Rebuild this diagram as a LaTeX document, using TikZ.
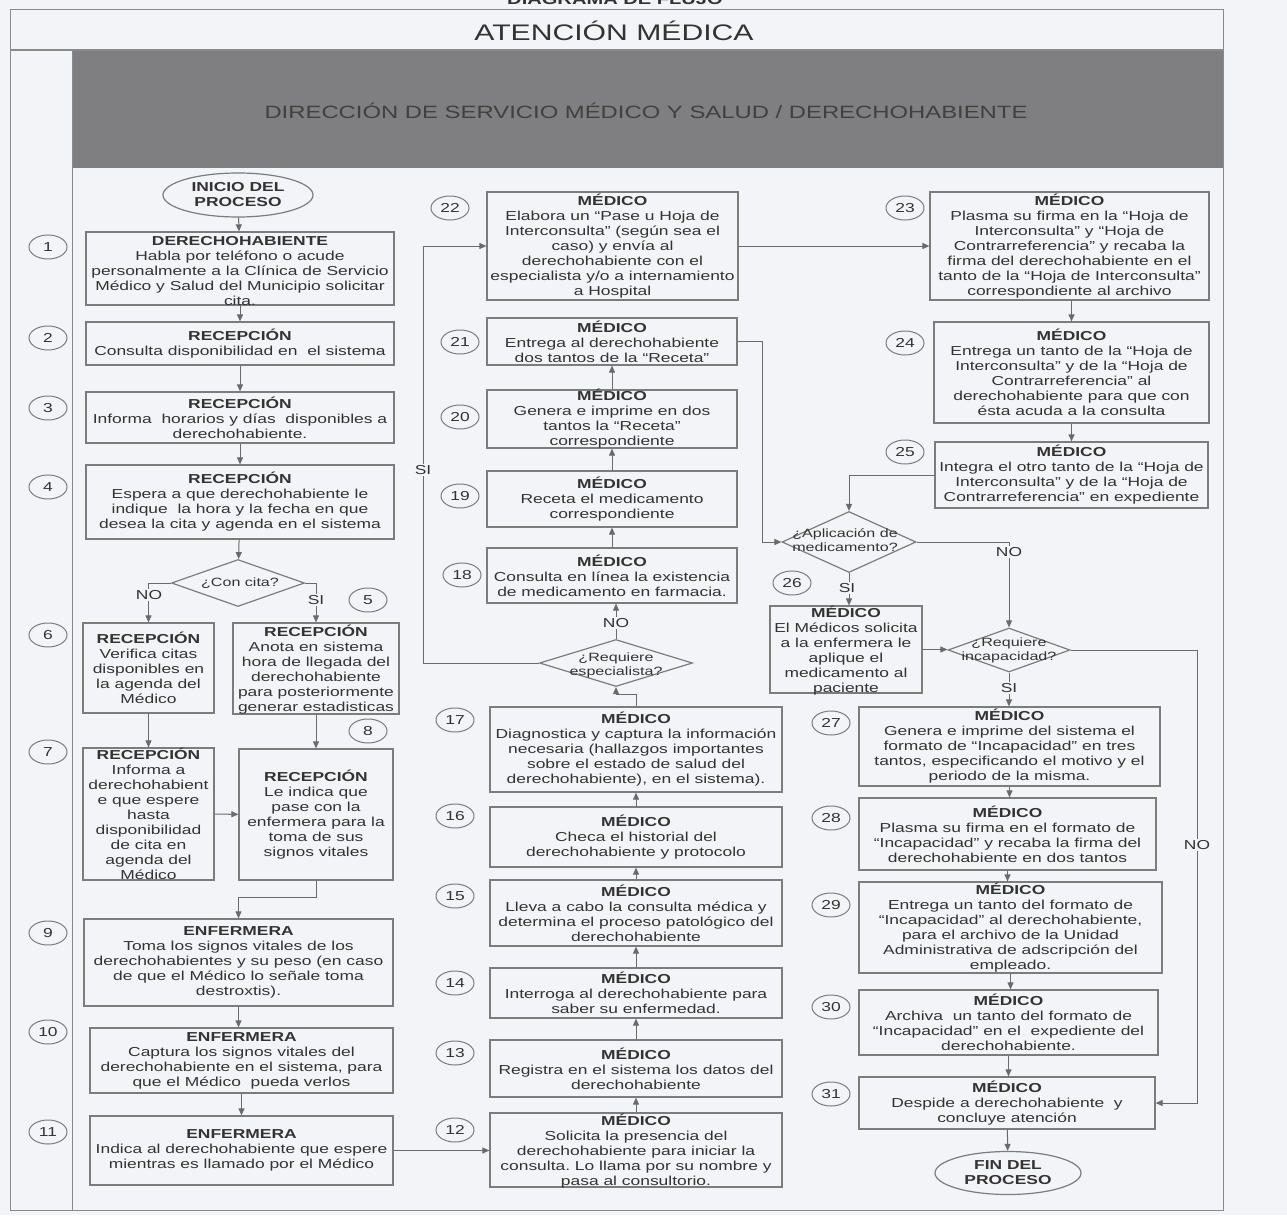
\documentclass[tikz,border=0pt]{standalone}
\usepackage{fontspec}
\setmainfont{Liberation Sans}[FakeStretch=1.34]
\usetikzlibrary{shapes.geometric,arrows.meta}
\frenchspacing
\definecolor{bgc}{HTML}{F3F4F8}
\definecolor{linec}{HTML}{6A6A6A}
\definecolor{boxc}{HTML}{7C7C7C}
\definecolor{txtc}{HTML}{333333}
\definecolor{bandc}{HTML}{7F7F81}
\definecolor{framec}{HTML}{8A8A8A}
\newcommand\fs{\fontsize{13}{15}\selectfont}
\newcommand\fd{\fontsize{12}{14}\selectfont}
\newcommand\flowbox[7]{%
  \node[bx,minimum width=#4pt,minimum height=#5pt] (#1) at (#2,#3) {};
  \node[tx,shift={(0,#6)}] (#1t) at (#1) {#7};}
\tikzset{
  bx/.style={draw=boxc,line width=1.2pt,rectangle,inner sep=0pt},
  tx/.style={align=center,font=\fs,text=txtc,inner sep=0pt},
  numc/.style={draw=boxc,line width=1pt,ellipse,minimum width=38pt,minimum height=24pt,inner sep=0pt,font=\fs,text=txtc},
  term/.style={draw=boxc,line width=1.2pt,ellipse,inner sep=0pt,align=center,font=\fs\bfseries,text=txtc},
  dia/.style={draw=boxc,line width=1.2pt,diamond,inner sep=0pt},
  dtx/.style={align=center,font=\fd,text=txtc,inner sep=0pt},
  arr/.style={draw=linec,line width=1pt,-{Triangle[length=7pt,width=6pt]}},
  ln/.style={draw=linec,line width=1pt},
  lbl/.style={font=\fs,text=txtc,fill=bgc,inner sep=1pt}
}
\begin{document}
\begin{tikzpicture}[x=1pt,y=-1pt]
\useasboundingbox (0,0) rectangle (1287,1215);
\fill[bgc] (0,0) rectangle (1287,1215);
% frame
\node[font=\bfseries\fontsize{15}{18}\selectfont,text=txtc,anchor=base] (toptitle) at (615,5) {DIAGRAMA DE FLUJO};
\fill[bandc] (72,51) rectangle (1223,168);
\draw[framec,line width=1pt] (10,10) rectangle (1223,1210);
\draw[framec,line width=2pt] (10,50) -- (1223,50);
\draw[framec,line width=1pt] (72,50) -- (72,1210);
\node[font=\fontsize{22.5}{26}\selectfont,text=txtc] (title) at (614,31) {ATENCIÓN MÉDICA};
\node[font=\fontsize{17.8}{20}\selectfont,text=black!75] (band) at (646,111) {DIRECCIÓN DE SERVICIO MÉDICO Y SALUD / DERECHOHABIENTE};

% ---------- left column ----------
\node[term,minimum width=150pt,minimum height=44pt] (start) at (238,195) {INICIO DEL\\PROCESO};
\flowbox{b1}{240}{268.5}{308}{73}{3}{\textbf{DERECHOHABIENTE}\\Habla por teléfono o acude\\personalmente a la Clínica de Servicio\\Médico y Salud del Municipio solicitar\\cita.}
\flowbox{b2}{240}{343.5}{308}{43}{0}{\textbf{RECEPCIÓN}\\Consulta disponibilidad en\ \ el sistema}
\flowbox{b3}{240}{417.5}{308}{51}{0}{\textbf{RECEPCIÓN}\\Informa\ \ horarios y días\ \ disponibles a\\derechohabiente.}
\flowbox{b4}{240}{502}{308}{74}{0}{\textbf{RECEPCIÓN}\\Espera a que derechohabiente le\\indique\ \ la hora y la fecha en que\\desea la cita y agenda en el sistema}
\node[dia,minimum width=133pt,minimum height=47pt] (d1) at (238,583) {};
\node[dtx] (d1t) at (240,583) {¿Con cita?};
\flowbox{b6}{148.5}{668}{131}{90}{0}{\textbf{RECEPCIÓN}\\Verifica citas\\disponibles en\\la agenda del\\Médico}
\flowbox{b5}{316}{668.5}{166}{91}{1}{\textbf{RECEPCIÓN}\\Anota en sistema\\hora de llegada del\\derechohabiente\\para posteriormente\\generar estadisticas}
\flowbox{b7}{148.5}{814}{131}{132}{0}{\textbf{RECEPCIÓN}\\Informa a\\derechohabient\\e que espere\\hasta\\disponibilidad\\de cita en\\agenda del\\Médico}
\flowbox{b8}{316}{814.5}{154}{131}{0}{\textbf{RECEPCIÓN}\\Le indica que\\pase con la\\enfermera para la\\toma de sus\\signos vitales}
\flowbox{b9}{238.5}{962.5}{309}{87}{0}{\textbf{ENFERMERA}\\Toma los signos vitales de los\\derechohabientes y su peso (en caso\\de que el Médico lo señale toma\\destroxtis).}
\flowbox{b10}{241.5}{1060.5}{303}{65}{0}{\textbf{ENFERMERA}\\Captura los signos vitales del\\derechohabiente en el sistema, para\\que el Médico\ \ pueda verlos}
\flowbox{b11}{241.5}{1150.5}{303}{69}{0}{\textbf{ENFERMERA}\\Indica al derechohabiente que espere\\mientras es llamado por el Médico}

\node[numc] (c1) at (48,247) {1};
\node[numc] (c2) at (48,338) {2};
\node[numc] (c3) at (48,408) {3};
\node[numc] (c4) at (48,487) {4};
\node[numc] (c5) at (368,600) {5};
\node[numc] (c6) at (48,635) {6};
\node[numc] (c7) at (48,752) {7};
\node[numc] (c8) at (368,731) {8};
\node[numc] (c9) at (48,933) {9};
\node[numc] (c10) at (48,1032) {10};
\node[numc] (c11) at (48,1132) {11};

% ---------- middle column ----------
\flowbox{b12}{636}{1150}{292}{74}{1}{\textbf{MÉDICO}\\Solicita la presencia del\\derechohabiente para iniciar la\\consulta. Lo llama por su nombre y\\pasa al consultorio.}
\flowbox{b13}{636}{1068.5}{292}{57}{0}{\textbf{MÉDICO}\\Registra en el sistema los datos del\\derechohabiente}
\flowbox{b14}{636}{993}{292}{50}{0}{\textbf{MÉDICO}\\Interroga al derechohabiente para\\saber su enfermedad.}
\flowbox{b15}{636}{913}{292}{66}{0}{\textbf{MÉDICO}\\Lleva a cabo la consulta médica y\\determina el proceso patológico del\\derechohabiente}
\flowbox{b16}{636}{837}{292}{60}{0}{\textbf{MÉDICO}\\Checa el historial del\\derechohabiente y protocolo}
\flowbox{b17}{636}{749.5}{292}{85}{0}{\textbf{MÉDICO}\\Diagnostica y captura la información\\necesaria (hallazgos importantes\\sobre el estado de salud del\\derechohabiente), en el sistema).}
\node[dia,minimum width=153pt,minimum height=47pt] (d2) at (616,663) {};
\node[dtx] (d2t) at (616,665) {¿Requiere\\especialista?};
\flowbox{b18}{612}{575.5}{250}{55}{0}{\textbf{MÉDICO}\\Consulta en línea la existencia\\de medicamento en farmacia.}
\flowbox{b19}{612}{499}{250}{56}{0}{\textbf{MÉDICO}\\Receta el medicamento\\correspondiente}
\flowbox{b20}{612}{419}{250}{58}{0}{\textbf{MÉDICO}\\Genera e imprime en dos\\tantos la “Receta”\\correspondiente}
\flowbox{b21}{612}{341.5}{250}{47}{0}{\textbf{MÉDICO}\\Entrega al derechohabiente\\dos tantos de la “Receta”}
\flowbox{b22}{612.5}{246}{251}{108}{0}{\textbf{MÉDICO}\\Elabora un “Pase u Hoja de\\Interconsulta” (según sea el\\caso) y envía al\\derechohabiente con el\\especialista y/o a internamiento\\a Hospital}

\node[numc] (c12) at (455,1130) {12};
\node[numc] (c13) at (455,1053) {13};
\node[numc] (c14) at (455,983) {14};
\node[numc] (c15) at (455,896) {15};
\node[numc] (c16) at (455,816) {16};
\node[numc] (c17) at (455,720) {17};
\node[numc] (c18) at (462,575) {18};
\node[numc] (c19) at (460,496) {19};
\node[numc] (c20) at (460,417) {20};
\node[numc] (c21) at (460,342) {21};
\node[numc] (c22) at (450,208) {22};

% ---------- right column ----------
\flowbox{b23}{1069.5}{246}{279}{108}{0}{\textbf{MÉDICO}\\Plasma su firma en la “Hoja de\\Interconsulta” y “Hoja de\\Contrarreferencia” y recaba la\\firma del derechohabiente en el\\tanto de la “Hoja de Interconsulta”\\correspondiente al archivo}
\flowbox{b24}{1071.5}{372.5}{275}{101}{0}{\textbf{MÉDICO}\\Entrega un tanto de la “Hoja de\\Interconsulta” y de la “Hoja de\\Contrarreferencia” al\\derechohabiente para que con\\ésta acuda a la consulta}
\flowbox{b25}{1071.5}{475}{273}{66}{0}{\textbf{MÉDICO}\\Integra el otro tanto de la “Hoja de\\Interconsulta” y de la “Hoja de\\Contrarreferencia” en expediente}
\node[dia,minimum width=134pt,minimum height=61pt] (d3) at (849,542) {};
\node[dtx] (d3t) at (845,540) {¿Aplicación de\\medicamento?};
\flowbox{b26}{846}{649.5}{152}{87}{1}{\textbf{MÉDICO}\\El Médicos solicita\\a la enfermera le\\aplique el\\medicamento al\\paciente}
\node[dia,minimum width=122pt,minimum height=44pt] (d4) at (1009,650) {};
\node[dtx] (d4t) at (1009,650) {¿Requiere\\incapacidad?};
\flowbox{b27}{1009.5}{746.5}{301}{79}{0}{\textbf{MÉDICO}\\Genera e imprime del sistema el\\formato de “Incapacidad” en tres\\tantos, especificando el motivo y el\\periodo de la misma.}
\flowbox{b28}{1007.5}{834}{297}{72}{0}{\textbf{MÉDICO}\\Plasma su firma en el formato de\\“Incapacidad” y recaba la firma del\\derechohabiente en dos tantos}
\flowbox{b29}{1010.5}{927.5}{303}{91}{0}{\textbf{MÉDICO}\\Entrega un tanto del formato de\\“Incapacidad” al derechohabiente,\\para el archivo de la Unidad\\Administrativa de adscripción del\\empleado.}
\flowbox{b30}{1008.5}{1022.5}{299}{65}{0}{\textbf{MÉDICO}\\Archiva\ \ un tanto del formato de\\“Incapacidad” en el\ \ expediente del\\derechohabiente.}
\flowbox{b31}{1007}{1103}{296}{52}{0}{\textbf{MÉDICO}\\Despide a derechohabiente\ \ y\\concluye atención}
\node[term,minimum width=146pt,minimum height=43pt] (end) at (1008,1173) {FIN DEL\\PROCESO};

\node[numc] (c23) at (905,208) {23};
\node[numc] (c24) at (905,343) {24};
\node[numc] (c25) at (905,452) {25};
\node[numc] (c26) at (792,583) {26};
\node[numc] (c27) at (831,723) {27};
\node[numc] (c28) at (831,818) {28};
\node[numc] (c29) at (831,905) {29};
\node[numc] (c30) at (831,1007) {30};
\node[numc] (c31) at (831,1094) {31};

% ---------- connectors: left ----------
\draw[arr] (start) -- (b1);
\draw[arr] (b1) -- (b2);
\draw[arr] (b2) -- (b3);
\draw[arr] (b3) -- (b4);
\draw[arr] (b4) -- (d1);
\draw[arr] (d1.west) -| (b6.north);
\node[lbl] (lno1) at (149,595) {NO};
\draw[arr] (d1.east) -| (b5.north);
\node[lbl] (lsi1) at (316,600) {SI};
\draw[arr] (b6) -- (b7);
\draw[arr] (b5) -- (b8);
\draw[arr] (b7) -- (b8);
\draw[arr] (b8.south) -- ++(0,17) -| (b9.north);
\draw[arr] (b9.south) -- (b9.south |- b10.north);
\draw[arr] (b10.south) -- (b10.south |- b11.north);
\draw[arr] (b11.east) -- (b11.east -| b12.west);

% ---------- connectors: middle ----------
\draw[arr] (b12) -- (b13);
\draw[arr] (b13) -- (b14);
\draw[arr] (b14) -- (b15);
\draw[arr] (b15) -- (b16);
\draw[arr] (b16) -- (b17);
\draw[arr] (b17.north) -- ++(0,-12) -| (d2.south);
\draw[arr] (d2.north) -- (d2.north |- b18.south);
\node[lbl] (lno2) at (616,623) {NO};
\coordinate (k1) at (423,663);
\draw[arr] (d2.west) -- (k1) |- (b22.west);
\node[lbl] (lsi2) at (423,470) {SI};
\draw[arr] (b18) -- (b19);
\draw[arr] (b19) -- (b20);
\draw[arr] (b20) -- (b21);
\draw[arr] (b22) -- (b23);
\coordinate (k2) at (762,341.5);
\draw[arr] (b21.east) -- (k2) |- (d3.west);

% ---------- connectors: right ----------
\draw[arr] (b24.north |- b23.south) -- (b24.north);
\draw[arr] (b24.south) -- (b24.south |- b25.north);
\draw[arr] (b25.west) -| (d3.north);
\draw[arr] (d3.east) -| (d4.north);
\node[lbl] (lno3) at (1009,552) {NO};
\draw[arr] (d3.south) -- (d3.south |- b26.north);
\node[lbl] (lsi3) at (847,588) {SI};
\draw[arr] (b26.east) -- (b26.east -| d4.west);
\draw[arr] (d4.south) -- (d4.south |- b27.north);
\node[lbl] (lsi4) at (1009,688) {SI};
\coordinate (k3) at (1197,650);
\draw[arr] (d4.east) -- (k3) |- (b31.east);
\node[lbl] (lno4) at (1197,845) {NO};
\draw[arr] (b27.south) -- (b27.south |- b28.north);
\draw[arr] (b28.south) -- (b28.south |- b29.north);
\draw[arr] (b29.south) -- (b29.south |- b30.north);
\draw[arr] (b30.south) -- (b30.south |- b31.north);
\draw[arr] (b31) -- (end);
\end{tikzpicture}
\end{document}
